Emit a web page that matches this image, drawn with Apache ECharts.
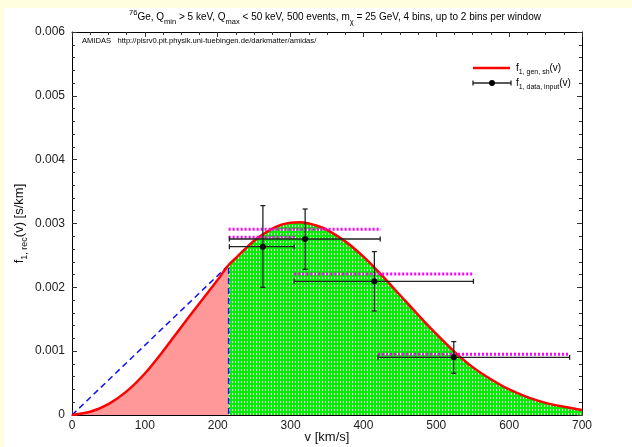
<!DOCTYPE html>
<html><head><meta charset="utf-8">
<script src="https://cdn.jsdelivr.net/npm/echarts@6/dist/echarts.min.js"></script>
<style>html,body{margin:0;padding:0;background:#fff}#c{width:632px;height:447px}</style>
</head><body><div id="c"></div>
<script>
// reconstructed velocity distribution f1,gen,sh(v)
const curveV = [0,25,50,75,100,125,150,175,200,215,225,250,275,287.5,300,312.5,325,337.5,350,375,400,425,450,475,500,525,550,575,600,625,650,675,700];
const curveF = [0,0.00005,0.00017,0.00037,0.00065,0.00100,0.00138,0.00175,0.00212,0.00235,0.00246,0.00273,0.00292,0.00298,0.00301,0.00302,0.00300,0.00296,0.00290,0.00272,0.00248,0.00219,0.00188,0.00157,0.00127,0.00099,0.00075,0.00056,0.00040,0.00028,0.00019,0.00013,0.00008];
// cut velocity (start of data range)
const vCut = 215;
const fCut = 0.00235;
// reconstructed data points with errors
const binV = [262, 320, 415, 524];
const binF = [0.002637, 0.002757, 0.002094, 0.000903];
const binFLow = [0.00200, 0.002282, 0.00163, 0.000653];
const binFHigh = [0.00328, 0.003227, 0.00256, 0.00115];
const binVLow = [216, 216, 305, 420];
const binVHigh = [305, 423, 551, 683];
// window averages (magenta dotted)
const winVLow = [215, 215, 305, 420];
const winVHigh = [424, 306, 551, 683];
const winF = [0.002909, 0.002784, 0.002209, 0.000951];
// axes
const xMin = 0, xMax = 700, xStep = 100;
const yMin = 0, yMax = 0.006, yStep = 0.001;

const FONT = 'Liberation Sans';

const pat = document.createElement('canvas');
pat.width = 3; pat.height = 4;
(function(){
  const g = pat.getContext('2d');
  g.fillStyle = '#00f000'; g.fillRect(0,0,3,4);
  g.fillStyle = '#ffffff'; g.fillRect(1,1,1,2);
})();

const curvePairs = curveV.map((v,i)=>[v,curveF[i]]);
const redPairs = curvePairs.filter(p=>p[0] <= vCut);
const greenPairs = curvePairs.filter(p=>p[0] >= vCut);

const baseAxisX = {
  type:'value', min:xMin, max:xMax, interval:xStep,
  axisLine:{show:true, onZero:false, lineStyle:{color:'#000', width:1}},
  axisTick:{show:true, inside:true, length:5, lineStyle:{color:'#333'}},
  minorTick:{show:true, splitNumber:4, length:3, lineStyle:{color:'#333'}},
  splitLine:{show:false}
};
const baseAxisY = {
  type:'value', min:yMin, max:yMax, interval:yStep,
  axisLine:{show:true, onZero:false, lineStyle:{color:'#000', width:1}},
  axisTick:{show:true, inside:true, length:5, lineStyle:{color:'#333'}},
  minorTick:{show:true, splitNumber:5, length:3, lineStyle:{color:'#333'}},
  splitLine:{show:false}
};

const chart = echarts.init(document.getElementById('c'), null, {renderer:'canvas'});
chart.setOption({
  backgroundColor:'#fff',
  animation:false,
  grid:{left:72, right:50, top:32, bottom:32, containLabel:false, outerBoundsMode:'none'},
  xAxis:[
    Object.assign({}, baseAxisX, {position:'bottom',
      name:'v [km/s]', nameLocation:'middle', nameGap:16, nameMoveOverlap:false,
      nameTextStyle:{fontFamily:FONT, fontSize:13, color:'#111'},
      axisLabel:{fontFamily:FONT, fontSize:12, color:'#222', margin:5}}),
    Object.assign({}, baseAxisX, {position:'top', axisLabel:{show:false}})
  ],
  yAxis:[
    Object.assign({}, baseAxisY, {position:'left',
      name:'f{sub|1, rec}(v) [s/km]', nameLocation:'middle', nameGap:43, nameRotate:90, nameMoveOverlap:false,
      nameTextStyle:{fontFamily:FONT, fontSize:13, color:'#111', lineHeight:20,
        rich:{sub:{fontFamily:FONT, fontSize:9, verticalAlign:'bottom', lineHeight:20, color:'#111'}}},
      axisLabel:{fontFamily:FONT, fontSize:12, color:'#222', margin:7}}),
    Object.assign({}, baseAxisY, {position:'right', axisLabel:{show:false}})
  ],
  graphic:[
    {type:'rect', shape:{x:0,y:0,width:632,height:8}, style:{fill:'#ffffe0'}, z:-10, silent:true},
    {type:'rect', shape:{x:0,y:0,width:4,height:447}, style:{fill:'#ffffe0'}, z:-10, silent:true},
    {type:'text', x:335, y:17, style:{text:'{sup|76}Ge, Q{sub|min} > 5 keV, Q{sub|max} < 50 keV, 500 events, m{sub|χ} = 25 GeV, 4 bins, up to 2 bins per window',
      fontFamily:FONT, fontSize:10, fill:'#000', align:'center', verticalAlign:'middle', lineHeight:17,
      rich:{sup:{fontFamily:FONT, fontSize:7.5, verticalAlign:'top', lineHeight:17, fill:'#000'},
            sub:{fontFamily:FONT, fontSize:7.5, verticalAlign:'bottom', lineHeight:17, fill:'#000'}}}, z:100},
    {type:'text', x:82, y:41, style:{text:'AMIDAS   http://pisrv0.pit.physik.uni-tuebingen.de/darkmatter/amidas/', fontFamily:FONT, fontSize:7.6, fill:'#000', verticalAlign:'middle'}, z:100},
    {type:'line', shape:{x1:473,y1:68,x2:510,y2:68}, style:{stroke:'#ff0000', lineWidth:2.5}, z:100},
    {type:'text', x:516, y:68, style:{text:'f{sub|1, gen, sh}(v)', fontFamily:FONT, fontSize:10, fill:'#000', verticalAlign:'middle', lineHeight:16,
      rich:{sub:{fontFamily:FONT, fontSize:7, verticalAlign:'bottom', lineHeight:16, fill:'#000'}}}, z:100},
    {type:'line', shape:{x1:473,y1:83,x2:511,y2:83}, style:{stroke:'#222', lineWidth:1.3}, z:100},
    {type:'line', shape:{x1:473,y1:80.5,x2:473,y2:85.5}, style:{stroke:'#222', lineWidth:1.3}, z:100},
    {type:'line', shape:{x1:511,y1:80.5,x2:511,y2:85.5}, style:{stroke:'#222', lineWidth:1.3}, z:100},
    {type:'circle', shape:{cx:492,cy:83,r:3}, style:{fill:'#000'}, z:100},
    {type:'text', x:516, y:83, style:{text:'f{sub|1, data, input}(v)', fontFamily:FONT, fontSize:10, fill:'#000', verticalAlign:'middle', lineHeight:16,
      rich:{sub:{fontFamily:FONT, fontSize:7, verticalAlign:'bottom', lineHeight:16, fill:'#000'}}}, z:100}
  ],
  series:[
    {type:'line', data:redPairs, smooth:0.3, showSymbol:false, lineStyle:{width:0}, areaStyle:{color:'#ff9999', opacity:1}, z:1, silent:true},
    {type:'line', data:greenPairs, smooth:0.3, showSymbol:false, lineStyle:{width:0}, areaStyle:{color:{image:pat, repeat:'repeat'}, opacity:1}, z:1, silent:true},
    {type:'line', data:[[0,0],[vCut,fCut],[vCut,0]], showSymbol:false, lineStyle:{color:'#1010ff', width:1.5, type:[6,4]}, z:3, silent:true},
    {type:'line', data:curvePairs, smooth:0.3, showSymbol:false, lineStyle:{color:'#ff0000', width:2.5}, z:4, silent:true},
    {type:'custom', z:5, silent:true,
      data:winF.map((f,i)=>[winVLow[i], f, winVHigh[i]]),
      encode:{x:[0,2], y:1},
      renderItem:function(params, api){
        const a = api.coord([api.value(0), api.value(1)]);
        const b = api.coord([api.value(2), api.value(1)]);
        return {type:'line', shape:{x1:a[0],y1:a[1],x2:b[0],y2:b[1]}, style:{stroke:'#ff00ff', lineWidth:3, lineDash:[2,2]}};
      }},
    {type:'custom', z:6, silent:true,
      data:binV.map((v,i)=>[v, binF[i], binVLow[i], binVHigh[i], binFLow[i], binFHigh[i]]),
      encode:{x:[0,2,3], y:[1,4,5]},
      renderItem:function(params, api){
        const v = api.value(0), f = api.value(1);
        const c = api.coord([v,f]);
        const l = api.coord([api.value(2), f]);
        const r = api.coord([api.value(3), f]);
        const lo = api.coord([v, api.value(4)]);
        const hi = api.coord([v, api.value(5)]);
        const cap = 2.5;
        const st = {stroke:'#222', lineWidth:1.3};
        return {type:'group', children:[
          {type:'line', shape:{x1:l[0],y1:l[1],x2:r[0],y2:r[1]}, style:st},
          {type:'line', shape:{x1:l[0],y1:l[1]-cap,x2:l[0],y2:l[1]+cap}, style:st},
          {type:'line', shape:{x1:r[0],y1:r[1]-cap,x2:r[0],y2:r[1]+cap}, style:st},
          {type:'line', shape:{x1:lo[0],y1:lo[1],x2:hi[0],y2:hi[1]}, style:st},
          {type:'line', shape:{x1:lo[0]-cap,y1:lo[1],x2:lo[0]+cap,y2:lo[1]}, style:st},
          {type:'line', shape:{x1:hi[0]-cap,y1:hi[1],x2:hi[0]+cap,y2:hi[1]}, style:st},
          {type:'circle', shape:{cx:c[0],cy:c[1],r:3}, style:{fill:'#000'}}
        ]};
      }}
  ]
});
</script>
</body></html>
